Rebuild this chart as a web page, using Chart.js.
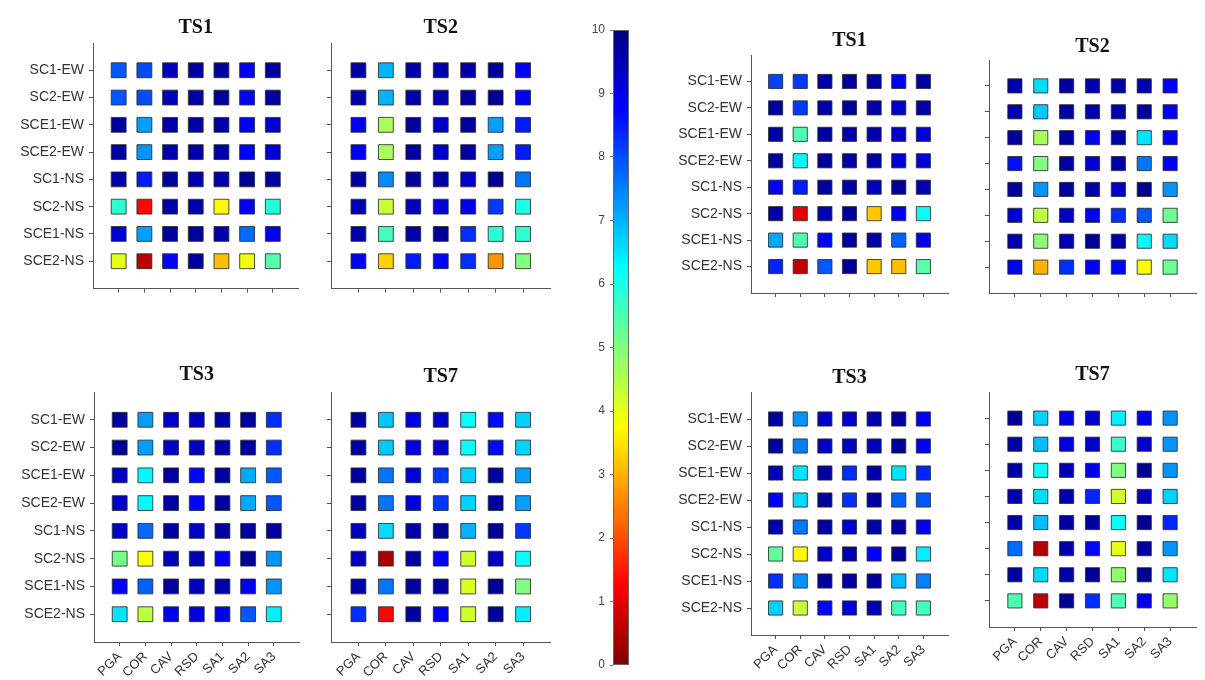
<!DOCTYPE html>
<html><head><meta charset="utf-8">
<script src="https://cdn.jsdelivr.net/npm/chart.js@4/dist/chart.umd.min.js"></script>
<style>
html,body{margin:0;padding:0;background:#fff;width:1205px;height:680px;overflow:hidden;position:relative}
canvas{position:absolute}
</style></head><body>
<script>
// ---------- data ----------
const rows = ['SC1-EW','SC2-EW','SCE1-EW','SCE2-EW','SC1-NS','SC2-NS','SCE1-NS','SCE2-NS'];
const measures = ['PGA','COR','CAV','RSD','SA1','SA2','SA3'];
const colorbarTicks = [0,1,2,3,4,5,6,7,8,9,10];

// left group
const leftTS1 = [
  [7.9,8.0,9.4,9.7,9.7,8.8,9.7],
  [7.9,8.0,9.4,9.6,9.7,8.7,9.7],
  [9.7,7.2,9.6,9.6,9.6,8.8,9.2],
  [9.7,7.3,9.6,9.6,9.6,8.8,9.2],
  [9.6,8.5,9.7,9.6,9.6,9.8,9.7],
  [5.8,1.3,9.6,9.6,3.7,8.8,5.9],
  [9.2,7.2,9.7,9.7,9.6,7.7,8.9],
  [4.0,0.6,8.7,9.7,3.1,3.9,5.4]
];
const leftTS2 = [
  [9.6,7.0,9.6,9.6,9.7,9.8,8.8],
  [9.6,7.0,9.6,9.6,9.7,9.8,8.8],
  [8.9,4.6,9.7,9.3,9.7,7.2,8.5],
  [8.9,4.6,9.7,9.3,9.7,7.2,8.5],
  [9.7,7.4,9.7,9.6,9.3,9.8,7.6],
  [9.5,4.3,9.4,9.1,8.9,8.2,6.0],
  [9.6,5.6,9.6,9.8,8.3,5.8,5.8],
  [8.8,3.3,8.5,8.7,8.3,2.7,5.0]
];
const leftTS3 = [
  [9.7,7.2,9.3,9.4,9.6,9.7,8.3],
  [9.8,7.2,9.3,9.4,9.6,9.7,8.3],
  [9.3,6.3,9.7,8.7,9.7,7.1,7.9],
  [9.3,6.3,9.7,8.7,9.7,7.1,7.9],
  [9.3,7.7,9.7,9.3,9.7,9.7,9.7],
  [5.1,3.8,9.4,9.5,8.9,9.8,7.3],
  [8.8,7.8,9.7,9.4,9.6,8.9,7.3],
  [6.5,4.4,8.9,9.1,8.9,7.9,6.4]
];
const leftTS7 = [
  [9.7,6.8,9.0,9.3,6.2,8.7,6.7],
  [9.7,6.8,9.0,9.3,6.2,8.7,6.7],
  [9.7,7.6,9.1,8.2,6.7,9.7,7.2],
  [9.7,7.6,9.1,8.2,6.7,9.7,7.2],
  [9.4,6.6,9.6,9.8,7.0,9.8,8.2],
  [9.4,0.4,9.7,8.8,4.2,9.4,6.2],
  [9.6,7.6,9.7,9.7,4.1,9.8,5.0],
  [8.3,1.3,9.7,8.8,4.2,9.8,6.4]
];
// right group
const rightTS1 = [
  [8.1,8.2,9.6,9.7,9.7,8.8,9.6],
  [9.7,8.2,9.6,9.7,9.6,9.3,9.6],
  [9.7,5.5,9.7,9.6,9.6,9.3,9.1],
  [9.7,6.3,9.7,9.6,9.6,9.2,9.1],
  [8.8,8.5,9.7,9.6,9.4,9.8,9.5],
  [9.6,1.0,9.5,9.7,3.2,8.8,6.2],
  [7.1,5.5,8.8,9.7,9.6,7.8,8.9],
  [8.4,0.6,7.9,9.8,3.2,3.1,5.4]
];
const rightTS2 = [
  [9.6,6.6,9.7,9.6,9.6,9.5,8.8],
  [9.6,6.8,9.7,9.6,9.6,9.7,8.8],
  [9.7,4.6,9.7,8.9,9.6,6.5,8.8],
  [8.6,5.0,9.7,9.2,9.6,7.6,8.8],
  [9.7,7.3,9.7,9.6,9.3,9.8,7.3],
  [9.2,4.4,9.3,8.9,8.3,7.9,5.2],
  [9.6,4.9,9.5,9.8,9.6,6.3,6.6],
  [8.9,3.0,8.3,8.9,8.7,3.8,5.2]
];
const rightTS3 = [
  [9.7,7.3,9.3,9.2,9.6,9.7,8.8],
  [9.7,7.5,9.3,9.3,9.4,9.8,8.8],
  [9.5,6.5,9.7,8.3,9.6,6.5,8.4],
  [8.8,6.6,9.7,8.3,9.7,7.8,7.9],
  [9.6,7.6,9.7,9.2,9.6,9.7,8.8],
  [5.3,3.7,9.3,9.5,8.8,9.8,6.4],
  [8.3,7.3,9.7,9.6,9.7,6.9,7.5],
  [6.7,4.3,8.7,9.1,9.5,5.6,5.6]
];
const rightTS7 = [
  [9.8,6.7,9.0,9.3,6.4,8.9,7.3],
  [9.7,6.9,9.1,9.3,5.7,9.2,7.3],
  [9.7,6.2,9.5,8.9,5.0,9.8,7.3],
  [9.6,6.6,9.6,8.4,4.2,9.4,6.7],
  [9.6,6.9,9.7,9.7,6.2,9.8,8.4],
  [7.7,0.5,9.6,8.7,4.0,9.7,7.3],
  [9.7,6.6,9.6,9.8,4.8,9.8,6.5],
  [5.5,0.6,9.8,8.3,5.5,8.9,4.8]
];

// ---------- colormap (jet, 0 = dark red, 10 = dark blue) ----------
function jet(v){
  const t = 1 - v/10;
  const cl = x => Math.max(0, Math.min(1, x));
  const r = cl(Math.min(4*t-1.5, -4*t+4.5));
  const g = cl(Math.min(4*t-0.5, -4*t+3.5));
  const b = cl(Math.min(4*t+0.5, -4*t+2.5));
  return 'rgb(' + Math.round(r*255) + ',' + Math.round(g*255) + ',' + Math.round(b*255) + ')';
}

const AXIS = '#555';
const LABEL = '#333';

function makeCanvas(left, top, w, h){
  const cv = document.createElement('canvas');
  cv.width = w; cv.height = h;
  cv.style.left = left + 'px'; cv.style.top = top + 'px';
  cv.style.width = w + 'px'; cv.style.height = h + 'px';
  document.body.appendChild(cv);
  return cv;
}

function makePanel(title, vals, g){
  const yW = g.yLabels ? 78 : 12;
  const xH = g.xLabels ? 48 : 8;
  const padR = 4;
  const cLeft = g.L - yW, cTop = g.titleY - 14;
  const w = g.R - g.L + yW + padR, h = g.B - cTop + xH;
  const cv = makeCanvas(cLeft, cTop, w, h);
  const pts = [], cols = [];
  rows.forEach((rn, r) => measures.forEach((mn, c) => {
    pts.push({x: c + 1, y: r + 1});
    cols.push(jet(vals[r][c]));
  }));
  new Chart(cv, {
    type: 'scatter',
    data: {datasets: [{
      data: pts,
      pointStyle: 'rect',
      pointRadius: g.rad,
      pointBackgroundColor: cols,
      pointBorderColor: 'rgba(45,45,45,0.85)',
      pointBorderWidth: 1
    }]},
    options: {
      responsive: false, animation: false, events: [],
      layout: {padding: {top: 2, left: 0, right: padR, bottom: 0}},
      plugins: {
        legend: {display: false}, tooltip: {enabled: false},
        title: {display: true, text: title, fullSize: false, color: '#111',
          font: {family: 'Liberation Serif', size: 20, weight: 'bold'},
          padding: {top: 0, bottom: g.T - g.titleY - 12}}
      },
      scales: {
        x: {
          type: 'linear', min: 0, max: 8,
          afterBuildTicks: s => { s.ticks = measures.map((m, i) => ({value: i + 1})); },
          afterFit: s => { s.height = xH; s.paddingLeft = 0; s.paddingRight = 0; },
          ticks: {display: g.xLabels, autoSkip: false, minRotation: 45, maxRotation: 45, padding: 3,
            font: {family: 'Liberation Sans', size: 13}, color: LABEL,
            callback: v => measures[v - 1]},
          grid: {drawOnChartArea: false, drawTicks: true, tickLength: 4, color: AXIS},
          border: {display: true, color: AXIS, width: 1}
        },
        y: {
          type: 'linear', min: 0, max: 9, reverse: true,
          afterBuildTicks: s => { s.ticks = rows.map((r, i) => ({value: i + 1})); },
          afterFit: s => { s.width = yW; s.paddingTop = 0; s.paddingBottom = 0; },
          ticks: {display: g.yLabels, autoSkip: false, padding: 5,
            font: {family: 'Liberation Sans', size: 14}, color: LABEL,
            callback: v => rows[v - 1]},
          grid: {drawOnChartArea: false, drawTicks: true, tickLength: 4, color: AXIS},
          border: {display: true, color: AXIS, width: 1}
        }
      }
    }
  });
}

makePanel('TS1', leftTS1,  {L: 93,  T: 43,  R: 306,  B: 292, titleY: 28,  yLabels: true,  xLabels: false, rad: 10.5});
makePanel('TS2', leftTS2,  {L: 331, T: 43,  R: 558,  B: 292, titleY: 28,  yLabels: false, xLabels: false, rad: 10.5});
makePanel('TS3', leftTS3,  {L: 94,  T: 392, R: 307,  B: 642, titleY: 375, yLabels: true,  xLabels: true,  rad: 10.5});
makePanel('TS7', leftTS7,  {L: 331, T: 392, R: 558,  B: 642, titleY: 377, yLabels: false, xLabels: true,  rad: 10.5});
makePanel('TS1', rightTS1, {L: 751, T: 55,  R: 955,  B: 296, titleY: 41,  yLabels: true,  xLabels: false, rad: 10});
makePanel('TS2', rightTS2, {L: 989, T: 60,  R: 1203, B: 296, titleY: 47,  yLabels: false, xLabels: false, rad: 10});
makePanel('TS3', rightTS3, {L: 751, T: 392, R: 955,  B: 635, titleY: 378, yLabels: true,  xLabels: true,  rad: 10});
makePanel('TS7', rightTS7, {L: 989, T: 392, R: 1203, B: 627, titleY: 375, yLabels: false, xLabels: true,  rad: 10});

// ---------- colorbar ----------
(function(){
  const cv = makeCanvas(560, 0, 80, 680);
  const barPlugin = {
    id: 'colorbar',
    beforeDatasetsDraw(chart){
      const {ctx, chartArea: a, scales: {y}} = chart;
      const y0 = y.getPixelForValue(colorbarTicks[0]);
      const y1 = y.getPixelForValue(colorbarTicks[colorbarTicks.length - 1]);
      const grad = ctx.createLinearGradient(0, y0, 0, y1);
      for (let i = 0; i <= 64; i++) grad.addColorStop(i / 64, jet(i / 64 * 10));
      ctx.save();
      ctx.fillStyle = grad;
      ctx.fillRect(a.left, y1, a.right - a.left, y0 - y1);
      ctx.strokeStyle = '#666'; ctx.lineWidth = 1;
      ctx.strokeRect(a.left + 0.5, y1 + 0.5, a.right - a.left - 1, y0 - y1 - 1);
      ctx.restore();
    }
  };
  new Chart(cv, {
    type: 'scatter',
    data: {datasets: [{data: []}]},
    options: {
      responsive: false, animation: false, events: [],
      layout: {padding: {top: 30, bottom: 15, left: 0, right: 11}},
      plugins: {legend: {display: false}, tooltip: {enabled: false}},
      scales: {
        x: {display: false, min: 0, max: 1},
        y: {
          type: 'linear', min: 0, max: 10, position: 'left',
          afterBuildTicks: s => { s.ticks = colorbarTicks.map(v => ({value: v})); },
          afterFit: s => { s.width = 53; s.paddingTop = 0; s.paddingBottom = 0; },
          ticks: {padding: 5, font: {family: 'Liberation Sans', size: 12}, color: '#444'},
          grid: {drawOnChartArea: false, drawTicks: true, tickLength: 3, color: '#777'},
          border: {display: false}
        }
      }
    },
    plugins: [barPlugin]
  });
})();
</script>
</body></html>
